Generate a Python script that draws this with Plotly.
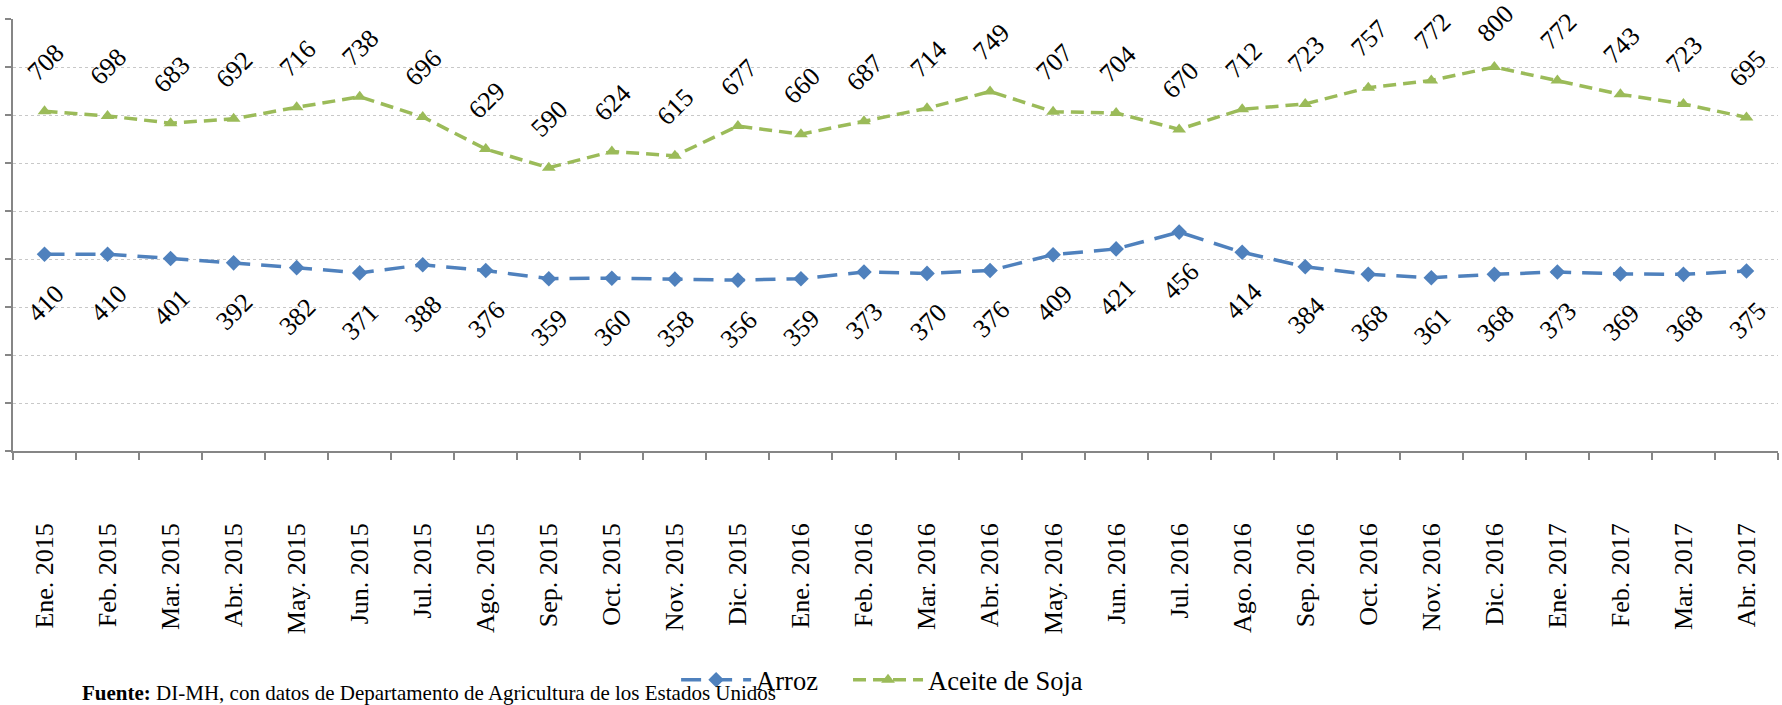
import plotly.graph_objects as go

months = ["Ene. 2015", "Feb. 2015", "Mar. 2015", "Abr. 2015", "May. 2015", "Jun. 2015",
          "Jul. 2015", "Ago. 2015", "Sep. 2015", "Oct. 2015", "Nov. 2015", "Dic. 2015",
          "Ene. 2016", "Feb. 2016", "Mar. 2016", "Abr. 2016", "May. 2016", "Jun. 2016",
          "Jul. 2016", "Ago. 2016", "Sep. 2016", "Oct. 2016", "Nov. 2016", "Dic. 2016",
          "Ene. 2017", "Feb. 2017", "Mar. 2017", "Abr. 2017"]
arroz = [410, 410, 401, 392, 382, 371, 388, 376, 359, 360, 358, 356, 359, 373, 370, 376,
         409, 421, 456, 414, 384, 368, 361, 368, 373, 369, 368, 375]
soja = [708, 698, 683, 692, 716, 738, 696, 629, 590, 624, 615, 677, 660, 687, 714, 749,
        707, 704, 670, 712, 723, 757, 772, 800, 772, 743, 723, 695]

FONT = "Liberation Serif"
BLUE = "#4F81BD"
GREEN = "#9BBB59"
Y_MAX = 900
PLOT_H = 432
PX_PER_UNIT = PLOT_H / Y_MAX

fig = go.Figure()
fig.add_trace(go.Scatter(
    x=months, y=arroz, name="Arroz", mode="lines+markers",
    line=dict(color=BLUE, width=3.5, dash="20px,11px"),
    marker=dict(symbol="diamond", size=12, color=BLUE),
    legend="legend",
))
fig.add_trace(go.Scatter(
    x=months, y=soja, name="Aceite de Soja", mode="lines+markers",
    line=dict(color=GREEN, width=3.5, dash="13px,7px"),
    marker=dict(symbol="triangle-up", size=12, color=GREEN),
    legend="legend2",
))

annotations = []
for m, v in zip(months, soja):
    # keep labels inside the chart (like Excel does near the top edge)
    shift = min(49, (Y_MAX - v) * PX_PER_UNIT - 4.5)
    annotations.append(dict(x=m, y=v, xref="x", yref="y", text=str(v), showarrow=False,
                            textangle=-45, yshift=shift, xshift=1,
                            font=dict(family=FONT, size=26, color="black")))
for m, v in zip(months, arroz):
    annotations.append(dict(x=m, y=v, xref="x", yref="y", text=str(v), showarrow=False,
                            textangle=-45, yshift=-49, xshift=1,
                            font=dict(family=FONT, size=26, color="black")))
annotations.append(dict(
    x=0.0379, y=-0.56, xref="paper", yref="paper", xanchor="left", yanchor="middle",
    showarrow=False,
    text="<b>Fuente:</b> DI-MH, con datos de Departamento de Agricultura de los Estados Unidos",
    font=dict(family=FONT, size=21, color="black")))

legend_common = dict(orientation="h", xanchor="left", y=-0.53, yanchor="middle",
                     font=dict(family=FONT, size=26.5, color="black"), itemwidth=70,
                     bgcolor="rgba(0,0,0,0)")

fig.update_layout(
    width=1782, height=705,
    margin=dict(l=13, r=4, t=19, b=254, autoexpand=False),
    paper_bgcolor="white", plot_bgcolor="white",
    font=dict(family=FONT, color="black"),
    showlegend=True,
    legend=dict(x=0.3757, **legend_common),
    legend2=dict(x=0.4731, **legend_common),
    annotations=annotations,
    xaxis=dict(
        type="category", showgrid=False, showline=True, linecolor="#868686", linewidth=1.5,
        ticks="outside", tickson="boundaries", ticklen=7, tickcolor="#868686", tickwidth=1.5,
        tickangle=-90, ticklabelstandoff=60, automargin=False,
        tickfont=dict(family=FONT, size=26, color="black"),
        range=[-0.5, len(months) - 0.5],
    ),
    yaxis=dict(
        range=[0, Y_MAX], dtick=100, showticklabels=False, showgrid=True,
        gridcolor="#C8C8C8", griddash="dot", gridwidth=1,
        showline=True, linecolor="#868686", linewidth=1.5,
        ticks="outside", ticklen=6, tickcolor="#868686", tickwidth=1.5,
        zeroline=False, automargin=False,
    ),
)

fig.write_html("out.html", config={"displayModeBar": False},
               post_script="document.body.style.margin='0';document.body.style.overflow='hidden';")
